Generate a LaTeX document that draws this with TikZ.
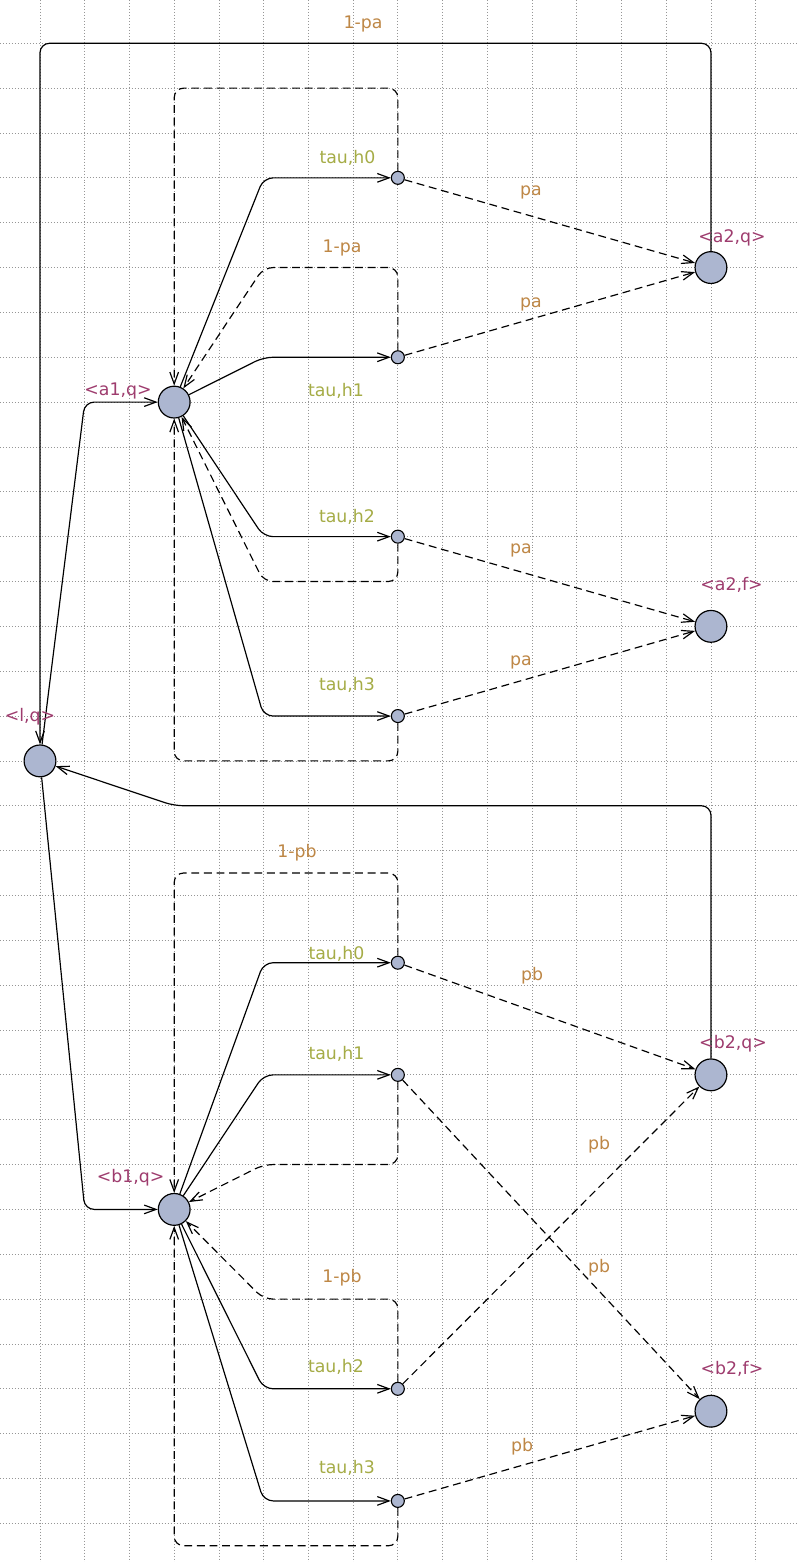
\documentclass[tikz,border=0pt]{standalone}
\usepackage{fontspec}
\setmainfont{DejaVu Sans}
\usetikzlibrary{arrows.meta}
\definecolor{locname}{RGB}{158,60,110}
\definecolor{problbl}{RGB}{190,135,70}
\definecolor{synclbl}{RGB}{165,172,70}
\definecolor{locfill}{RGB}{172,182,208}
\definecolor{gridc}{RGB}{150,150,150}
\begin{document}
\begin{tikzpicture}[x=0.2232mm, y=-0.2232mm,
  loc/.style={circle, draw, fill=locfill, line width=0.75pt, minimum size=7.1mm, inner sep=0pt},
  bp/.style={circle, draw, fill=locfill, line width=0.7pt, minimum size=2.9mm, inner sep=0pt},
  edge/.style={line width=0.75pt, rounded corners=6pt, -{Straight Barb[length=7.5pt,width=5.5pt]}},
  dedge/.style={edge, dash pattern=on 5pt off 3pt},
  lbl/.style={inner sep=0pt, font=\fontsize{11}{13}\selectfont},
  nm/.style={lbl, text=locname},
  pr/.style={lbl, text=problbl},
  sy/.style={lbl, text=synclbl},
  gridline/.style={gridc, line width=0.5pt, dash pattern=on 0.6pt off 1.3pt}]

\useasboundingbox (0,0) rectangle (796,1562);
\fill[white] (0,0) rectangle (796,1562);
\foreach \i in {0,...,16} \draw[gridline] (40+44.73*\i,0) -- (40+44.73*\i,1562);
\foreach \j in {0,...,33} \draw[gridline] (0,43.3+44.85*\j) -- (796,43.3+44.85*\j);

% locations
\node[loc] (lq)  at (40,760.9) {};
\node[loc] (a1)  at (174.19,402.1) {};
\node[loc] (a2q) at (710.95,267.55) {};
\node[loc] (a2f) at (710.95,626.35) {};
\node[loc] (b1)  at (174.19,1209.4) {};
\node[loc] (b2q) at (710.95,1074.85) {};
\node[loc] (b2f) at (710.95,1411.2) {};
% branch points
\node[bp] (ha0) at (397.84,177.85) {};
\node[bp] (ha1) at (397.84,357.25) {};
\node[bp] (ha2) at (397.84,536.65) {};
\node[bp] (ha3) at (397.84,716.05) {};
\node[bp] (hb0) at (397.84,962.7) {};
\node[bp] (hb1) at (397.84,1074.85) {};
\node[bp] (hb2) at (397.84,1388.8) {};
\node[bp] (hb3) at (397.84,1500.9) {};

% main loops
\draw[edge] (lq) -- (84.73,402.1) -- (a1);
\draw[edge] (a2q) -- (710.95,43.3) -- (40,43.3) -- (lq);
\draw[edge] (b2q) -- (710.95,805.75) -- (174.19,805.75) -- (lq);
\draw[edge] (lq) -- (84.73,1209.4) -- (b1);

% upper part
\draw[edge] (a1) -- (263.65,177.85) -- (ha0);
\draw[edge] (a1) -- (263.65,357.25) -- (ha1);
\draw[edge] (a1) -- (263.65,536.65) -- (ha2);
\draw[edge] (a1) -- (263.65,716.05) -- (ha3);
\draw[dedge] (ha0) -- (397.84,88.15) -- (174.19,88.15) -- (a1);
\draw[dedge] (ha1) -- (397.84,267.55) -- (263.65,267.55) -- (a1);
\draw[dedge] (ha2) -- (397.84,581.5) -- (263.65,581.5) -- (a1);
\draw[dedge] (ha3) -- (397.84,760.9) -- (174.19,760.9) -- (a1);
\draw[dedge] (ha0) -- (a2q);
\draw[dedge] (ha1) -- (a2q);
\draw[dedge] (ha2) -- (a2f);
\draw[dedge] (ha3) -- (a2f);

% lower part
\draw[edge] (b1) -- (263.65,962.7) -- (hb0);
\draw[edge] (b1) -- (263.65,1074.85) -- (hb1);
\draw[edge] (b1) -- (263.65,1388.8) -- (hb2);
\draw[edge] (b1) -- (263.65,1500.9) -- (hb3);
\draw[dedge] (hb0) -- (397.84,873.0) -- (174.19,873.0) -- (b1);
\draw[dedge] (hb1) -- (397.84,1164.55) -- (263.65,1164.55) -- (b1);
\draw[dedge] (hb2) -- (397.84,1299.1) -- (263.65,1299.1) -- (b1);
\draw[dedge] (hb3) -- (397.84,1545.8) -- (174.19,1545.8) -- (b1);
\draw[dedge] (hb0) -- (b2q);
\draw[dedge] (hb1) -- (b2f);
\draw[dedge] (hb2) -- (b2q);
\draw[dedge] (hb3) -- (b2f);

% labels
\node[pr] (L1)  at (363,24) {1-pa};
\node[sy] (L2)  at (347.5,158) {tau,h0};
\node[pr] (L3)  at (531,192.5) {pa};
\node[nm] (L4)  at (732,237.5) {<a2,q>};
\node[pr] (L5)  at (342,248) {1-pa};
\node[pr] (L6)  at (531,304.5) {pa};
\node[nm] (L7)  at (118,390.5) {<a1,q>};
\node[sy] (L8)  at (336,391) {tau,h1};
\node[sy] (L9)  at (347,516.5) {tau,h2};
\node[pr] (L10) at (521,550) {pa};
\node[nm] (L11) at (731.5,585) {<a2,f>};
\node[pr] (L12) at (521,662) {pa};
\node[sy] (L13) at (347,684.5) {tau,h3};
\node[nm] (L14) at (30,717) {<l,q>};
\node[pr] (L15) at (297,852.5) {1-pb};
\node[sy] (L16) at (336.5,953.5) {tau,h0};
\node[pr] (L17) at (532,975.5) {pb};
\node[nm] (L18) at (733,1043.5) {<b2,q>};
\node[sy] (L19) at (336.5,1053.5) {tau,h1};
\node[pr] (L20) at (599,1144.5) {pb};
\node[nm] (L21) at (130.7,1177.5) {<b1,q>};
\node[pr] (L22) at (599,1267.5) {pb};
\node[pr] (L23) at (342,1277.5) {1-pb};
\node[sy] (L24) at (336,1366.7) {tau,h2};
\node[nm] (L25) at (732,1368.5) {<b2,f>};
\node[pr] (L26) at (522,1446.5) {pb};
\node[sy] (L27) at (347,1467.5) {tau,h3};
\end{tikzpicture}
\end{document}
